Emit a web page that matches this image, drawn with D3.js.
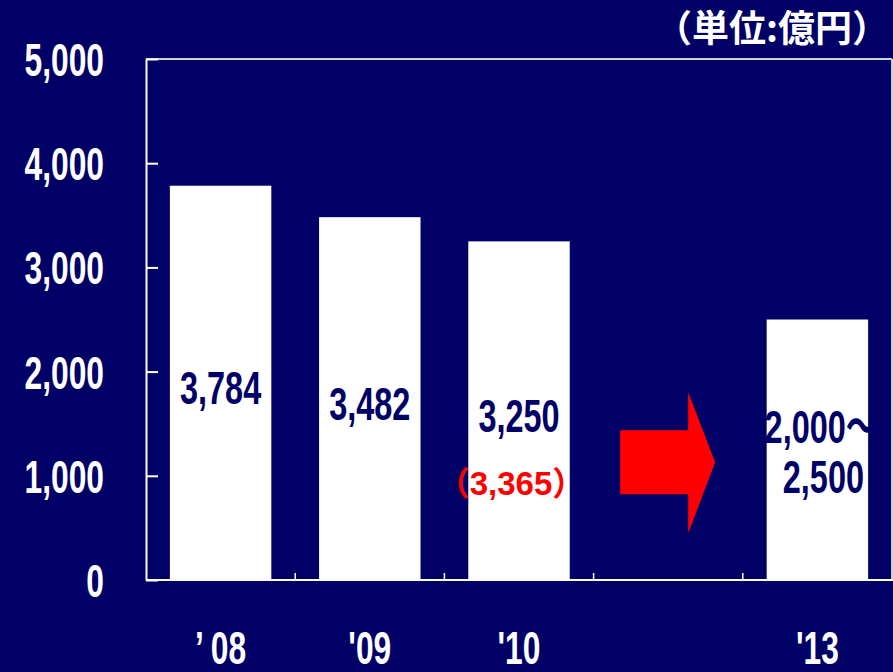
<!DOCTYPE html>
<html>
<head>
<meta charset="utf-8">
<script src="https://cdn.jsdelivr.net/npm/d3@7"></script>
<style>
  html, body { margin: 0; padding: 0; background: #000066; }
  svg { display: block; }
</style>
</head>
<body>
<script>
// chart data
const categories = ["’ 08", "'09", "'10", "gap", "'13"];
const values = [3784, 3482, 3250, null, 2500];
const barLabels = [["3,784"], ["3,482"], ["3,250"], null, ["2,000～", "2,500"]];
const subLabels = [null, null, "（3,365）", null, null];
const yTicks = [0, 1000, 2000, 3000, 4000, 5000];
const unitLabel = "（単位:億円）";

const width = 893, height = 672;
const plotLeft = 146, plotRight = 892, plotTop = 59, plotBottom = 580;
const bg = "#000066";
const squeeze = 0.69;

const svg = d3.select("body").append("svg")
	.attr("width", width)
	.attr("height", height);

svg.append("rect").attr("width", width).attr("height", height).attr("fill", bg);

let xScale = d3.scaleBand()
	.domain(categories)
	.range([plotLeft, plotRight])
	.paddingInner(0.32)
	.paddingOuter(0.16);

let yScale = d3.scaleLinear()
	.domain([0, 5000])
	.range([plotBottom, plotTop]);

// squeeze text horizontally like a condensed face
function condense(sel, k){
	sel.each(function(){
		let len = this.getComputedTextLength();
		d3.select(this).attr("textLength", len * k).attr("lengthAdjust", "spacingAndGlyphs");
	});
}

// frame
svg.append("line")
	.attr("x1", plotLeft).attr("x2", plotRight).attr("y1", plotTop).attr("y2", plotTop)
	.attr("stroke", "#d0d0d0").attr("stroke-width", 2);
svg.append("line")
	.attr("x1", plotRight).attr("x2", plotRight).attr("y1", plotTop).attr("y2", plotBottom)
	.attr("stroke", "#d0d0d0").attr("stroke-width", 2);

// bars
let barData = categories.map((c, i) => ({c: c, v: values[i], lab: barLabels[i], sub: subLabels[i]}))
	.filter(d => d.v !== null);

svg.selectAll("rect.bar").data(barData).enter()
	.append("rect")
	.attr("class", "bar")
	.attr("x", d => xScale(d.c))
	.attr("y", d => yScale(d.v))
	.attr("width", xScale.bandwidth())
	.attr("height", d => yScale(0) - yScale(d.v))
	.attr("fill", "#ffffff");

// y axis
let yAxis = d3.axisLeft(yScale)
	.tickValues(yTicks)
	.tickFormat(d3.format(","))
	.tickSizeInner(-12)
	.tickSizeOuter(0)
	.tickPadding(42);

let gy = svg.append("g")
	.attr("transform", `translate(${plotLeft},0)`)
	.call(yAxis);
gy.select(".domain").attr("stroke", "#ffffff").attr("stroke-width", 2);
gy.selectAll(".tick line").attr("stroke", "#ffffff").attr("stroke-width", 2);
gy.selectAll(".tick text")
	.attr("fill", "#ffffff")
	.attr("font-family", "'Liberation Sans', Arial, sans-serif")
	.attr("font-weight", "bold")
	.attr("font-size", 46)
	.attr("dy", "0.36em")
	.call(condense, squeeze);

// x axis line and boundary ticks
svg.append("line")
	.attr("x1", plotLeft).attr("x2", width).attr("y1", plotBottom).attr("y2", plotBottom)
	.attr("stroke", "#ffffff").attr("stroke-width", 2);

let step = xScale.step();
let bounds = categories.slice(0, -1).map(c => xScale(c) + xScale.bandwidth() + step * xScale.paddingInner() / 2);
svg.selectAll("line.xtick").data(bounds).enter()
	.append("line")
	.attr("class", "xtick")
	.attr("x1", d => d).attr("x2", d => d)
	.attr("y1", plotBottom).attr("y2", plotBottom - 7)
	.attr("stroke", "#ffffff").attr("stroke-width", 1.5);

// x labels
svg.selectAll("text.xlab").data(categories.filter(c => c !== "gap")).enter()
	.append("text")
	.attr("class", "xlab")
	.attr("x", d => xScale(d) + xScale.bandwidth() / 2)
	.attr("y", 664)
	.attr("text-anchor", "middle")
	.attr("fill", "#ffffff")
	.attr("font-family", "'Liberation Sans', Arial, sans-serif")
	.attr("font-weight", "bold")
	.attr("font-size", 46)
	.text(d => d)
	.call(condense, squeeze);

// value labels inside bars
barData.forEach(d => {
	let cx = xScale(d.c) + xScale.bandwidth() / 2;
	let mid = yScale(d.v / 2);
	let n = d.lab.length;
	d.lab.forEach((t, j) => {
		svg.append("text")
			.attr("x", cx + (n > 1 ? (j === 0 ? 4 : 6) : 0))
			.attr("y", mid + 21 + (j - (n - 1) / 2) * 50 - (n > 1 ? 3 : 0))
			.attr("text-anchor", "middle")
			.attr("fill", bg)
			.attr("font-family", "'Liberation Sans', Arial, 'Noto Sans CJK JP', sans-serif")
			.attr("font-weight", "bold")
			.attr("font-size", 47)
			.text(t)
			.call(condense, squeeze);
	});
	if(d.sub){
		svg.append("text")
			.attr("x", cx - 8)
			.attr("y", mid + 84)
			.attr("text-anchor", "middle")
			.attr("fill", "#ff0000")
			.attr("font-family", "'Liberation Sans', Arial, 'Noto Sans CJK JP', sans-serif")
			.attr("font-weight", "bold")
			.attr("font-size", 33)
			.text(d.sub);
	}
});

// red arrow in the gap slot
let ax = xScale("gap") + xScale.bandwidth() / 2;
let ay = yScale(1130);
let arrow = [
	[ax - 48, ay - 32], [ax + 20, ay - 32], [ax + 20, ay - 70],
	[ax + 47, ay], [ax + 20, ay + 71], [ax + 20, ay + 32], [ax - 48, ay + 32]
];
svg.append("path")
	.attr("d", d3.line()(arrow) + "Z")
	.attr("fill", "#ff0000");

// unit label
svg.append("text")
	.attr("x", 889)
	.attr("y", 42)
	.attr("text-anchor", "end")
	.attr("fill", "#ffffff")
	.attr("font-family", "'Noto Sans CJK JP', sans-serif")
	.attr("font-weight", "bold")
	.attr("font-size", 37)
	.text(unitLabel);
</script>
</body>
</html>
